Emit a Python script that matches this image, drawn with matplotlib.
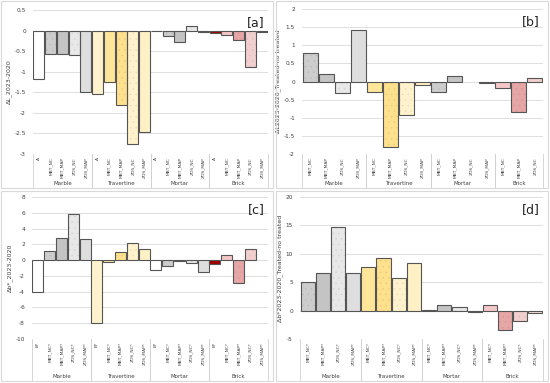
import matplotlib
matplotlib.use("Agg")
import matplotlib.pyplot as plt
from matplotlib.patches import Rectangle

plt.rcParams['font.family'] = ['DejaVu Sans']
plt.rcParams['hatch.linewidth'] = 0.25

W, H = 550, 383

groups = ["Marble", "Travertine", "Mortar", "Brick"]

# Panel a
cats_a = ["A", "MBT_NC", "MBT_MAP", "ZOS_NC", "ZOS_MAP"]
vals_a = {
    "Marble": [-1.17, -0.58, -0.58, -0.60, -1.50],
    "Travertine": [-1.55, -1.25, -1.82, -2.75, -2.47],
    "Mortar": [-0.02, -0.12, -0.28, 0.12, -0.03],
    "Brick": [-0.05, -0.10, -0.23, -0.88, -0.04],
}
ticks_a = [-3, -2.5, -2, -1.5, -1, -0.5, 0, 0.5]

# Panel b
cats_b = {
    "Marble": ["MBT_NC", "MBT_MAP", "ZOS_NC", "ZOS_MAP"],
    "Travertine": ["MBT_NC", "MBT_MAP", "ZOS_NC", "ZOS_MAP"],
    "Mortar": ["MBT_NC", "MBT_MAP", "ZOS_NC", "ZOS_MAP"],
    "Brick": ["MBT_NC", "MBT_MAP", "ZOS_NC"],
}
vals_b = {
    "Marble": [0.80, 0.20, -0.32, 1.42],
    "Travertine": [-0.28, -1.80, -0.92, -0.10],
    "Mortar": [-0.28, 0.15, 0.0, -0.04],
    "Brick": [-0.17, -0.83, 0.10],
}
ticks_b = [-2, -1.5, -1, -0.5, 0, 0.5, 1, 1.5, 2]

# Panel c
cats_c = ["B*", "MBT_NC*", "MBT_MAP*", "ZOS_NC*", "ZOS_MAP*"]
vals_c = {
    "Marble": [-4.0, 1.1, 2.8, 5.9, 2.7],
    "Travertine": [-8.0, -0.2, 1.0, 2.2, 1.45],
    "Mortar": [-1.2, -0.75, -0.1, -0.35, -1.5],
    "Brick": [-0.5, 0.65, -2.85, 1.45, 0.0],
}
ticks_c = [-10, -8, -6, -4, -2, 0, 2, 4, 6, 8]

# Panel d
cats_d = ["MBT_NC*", "MBT_MAP*", "ZOS_NC*", "ZOS_MAP*"]
vals_d = {
    "Marble": [5.0, 6.7, 14.8, 6.6],
    "Travertine": [7.6, 9.3, 5.7, 8.3],
    "Mortar": [0.1, 1.0, 0.7, -0.3],
    "Brick": [1.0, -3.4, -1.8, -0.4],
}
ticks_d = [-5, 0, 5, 10, 15, 20]

# styles by material and variant (face color, hatch)
styles = {
    "Marble": {"A": ("#ffffff", None), "MBT_NC": ("#cdcdcd", "..."), "MBT_MAP": ("#c4c4c4", None),
               "ZOS_NC": ("#e8e8e8", "..."), "ZOS_MAP": ("#dedede", None)},
    "Travertine": {"A": ("#fff2cc", None), "MBT_NC": ("#ffe699", None), "MBT_MAP": ("#ffe08c", "..."),
                   "ZOS_NC": ("#fff2cc", "..."), "ZOS_MAP": ("#fff0c6", None)},
    "Mortar": {"A": ("#ffffff", None), "MBT_NC": ("#cdcdcd", "..."), "MBT_MAP": ("#c4c4c4", None),
               "ZOS_NC": ("#e8e8e8", "..."), "ZOS_MAP": ("#dedede", None)},
    "Brick": {"A": ("#a00000", None), "MBT_NC": ("#f4c8c8", None), "MBT_MAP": ("#e6a6a6", "..."),
              "ZOS_NC": ("#f2cfcf", "..."), "ZOS_MAP": ("#f8e0e0", None)},
}

def darker(c, f=0.8):
    c = c.lstrip('#')
    r, g, b = int(c[0:2], 16), int(c[2:4], 16), int(c[4:6], 16)
    return '#%02x%02x%02x' % (int(r * f), int(g * f), int(b * f))

def key_of(label):
    k = label.rstrip('*')
    if k in ("A", "B"):
        return "A"
    return k

fig = plt.figure(figsize=(W / 100, H / 100), dpi=100)

# panel frames
for (x0, y0, x1, y1) in [(1, 1, 273, 188), (276, 1, 548, 188), (1, 191, 273, 381), (276, 191, 548, 381)]:
    fig.patches.append(Rectangle((x0 / W, 1 - y1 / H), (x1 - x0) / W, (y1 - y0) / H,
                                 transform=fig.transFigure, fill=False, edgecolor="#d9d9d9", lw=0.8))

def panel(rect, cats_by_group, vals, ticks, ylabel, tag, frame_bottom):
    left, right, top, bottom = rect
    ax = fig.add_axes([left / W, 1 - bottom / H, (right - left) / W, (bottom - top) / H])
    labels, values, groups_pos = [], [], []
    faces, hatches = [], []
    idx = 0
    for g in groups:
        cl = cats_by_group[g]
        start = idx
        for c, v in zip(cl, vals[g]):
            labels.append(c)
            values.append(v)
            fc, ht = styles[g][key_of(c)]
            faces.append(fc)
            hatches.append(ht)
            idx += 1
        groups_pos.append((start, idx))
    n = len(values)
    xs = list(range(n))
    for x, v, fc, ht in zip(xs, values, faces, hatches):
        if v == 0:
            continue
        ax.bar(x, v, width=0.93, color=fc, edgecolor=darker(fc, 0.9) if ht else fc,
               hatch=ht, linewidth=0, zorder=2)
        ax.bar(x, v, width=0.93, fill=False, edgecolor="#555555", linewidth=0.8, zorder=3)
    ax.set_xlim(-0.5, n - 0.5)
    ax.set_ylim(ticks[0], ticks[-1])
    ax.set_yticks(ticks)
    ax.set_yticklabels([("%g" % t) for t in ticks], fontsize=4.2, color="#404040")
    ax.tick_params(axis='y', length=0, pad=5)
    ax.grid(axis='y', color="#d9d9d9", lw=0.6, zorder=0)
    ax.set_axisbelow(True)
    for s in ax.spines.values():
        s.set_visible(False)
    ax.set_xticks([])
    ax.set_ylabel(ylabel, fontsize=4.5, color="#404040", labelpad=2)
    tr = ax.get_xaxis_transform()
    hpx = bottom - top
    def yfrac(py):
        return -(py - bottom) / hpx
    for x, lab in zip(xs, labels):
        ax.text(x, yfrac(bottom + 3), lab, rotation=90, ha='center', va='top',
                fontsize=3.2, color="#404040", transform=tr)
    for (s, e), g in zip(groups_pos, groups):
        for xb in (s - 0.5, e - 0.5):
            ax.plot([xb, xb], [0, yfrac(frame_bottom)], transform=tr, color="#d0d0d0",
                    lw=0.6, clip_on=False)
        ax.text((s + e - 1) / 2, yfrac(frame_bottom - 3.5), g, ha='center', va='center',
                fontsize=4.0, color="#404040", transform=tr)
    ax.text(0.985, 0.96, tag, transform=ax.transAxes, ha='right', va='top', fontsize=9,
            color="#222222")
    return ax

full = {g: cats_a for g in groups}
panel((33, 268, 10, 154), full, vals_a, ticks_a, "ΔL_2023-2020", "[a]", 187)
panel((302, 543, 9, 154), cats_b, vals_b, ticks_b, "ΔL2023-2020_Treated-no treated", "[b]", 187)
panel((32, 268, 197, 339), {g: cats_c for g in groups}, vals_c, ticks_c, "Δb*_2023-2020", "[c]", 380)
panel((300, 543, 197, 339), {g: cats_d for g in groups}, vals_d, ticks_d,
      "Δb*2023-2020_Treated-no treated", "[d]", 380)

fig.savefig("out.png", dpi=100)
